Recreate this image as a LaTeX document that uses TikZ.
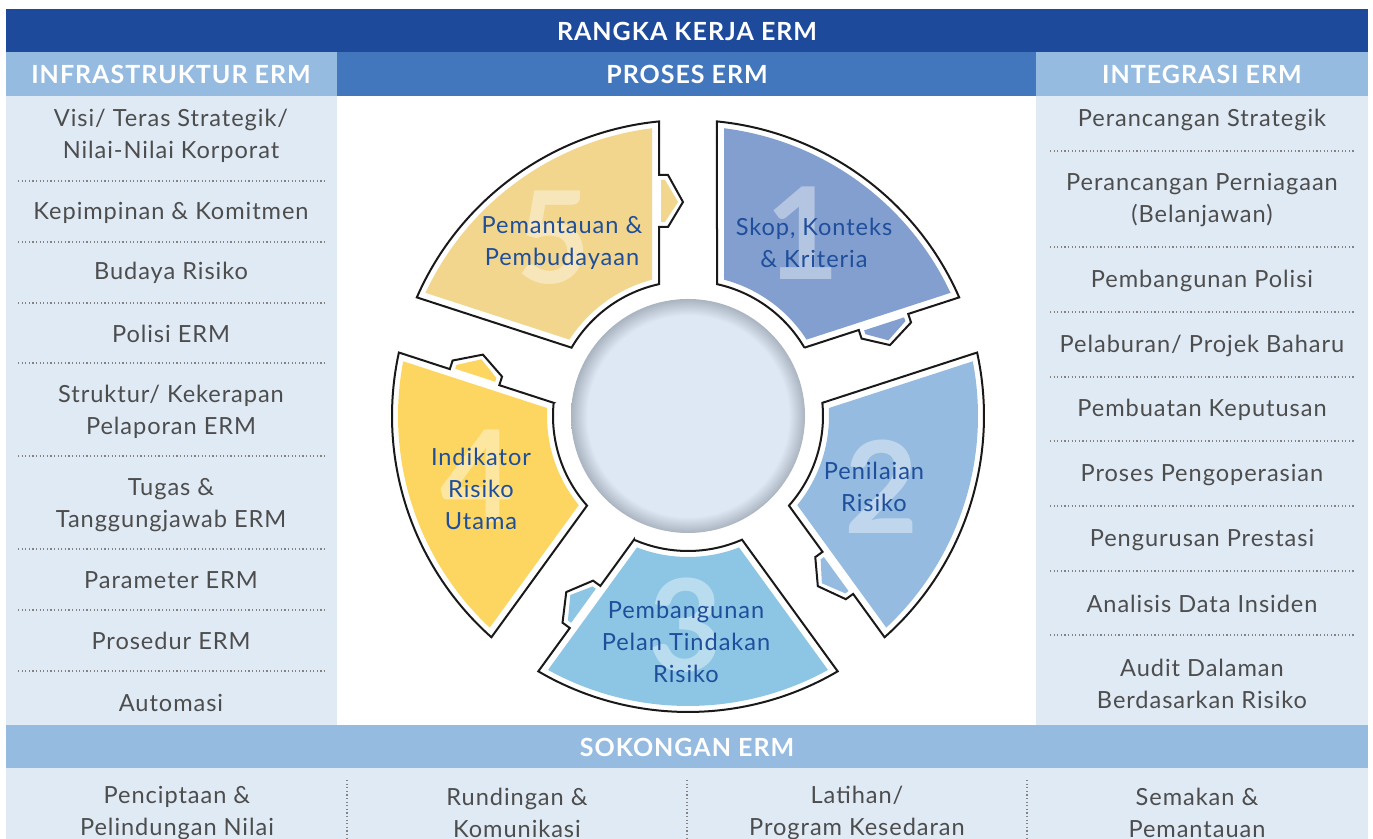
\documentclass[tikz,border=0pt]{standalone}
\usepackage{fontspec}
\setmainfont{Lato}[LetterSpace=4]
\definecolor{hdrdark}{HTML}{1D4A9A}
\definecolor{hdrlight}{HTML}{96BBE0}
\definecolor{hdrmid}{HTML}{4277BD}
\definecolor{colbg}{HTML}{DFEAF5}
\definecolor{bodytxt}{HTML}{4D4D4D}
\definecolor{labeltxt}{HTML}{1F4E9B}
\definecolor{segone}{HTML}{829FCF}
\definecolor{segtwo}{HTML}{95BBE0}
\definecolor{segthree}{HTML}{8DC6E5}
\definecolor{segfour}{HTML}{FCD661}
\definecolor{segfive}{HTML}{F2D68D}
\definecolor{hubfill}{HTML}{DDE8F4}
\definecolor{hubrim}{HTML}{A9B4C0}
\pgfdeclareradialshading{hubshade}{\pgfpoint{0bp}{0bp}}{color(0bp)=(hubfill); color(21.5bp)=(hubfill); color(25bp)=(hubrim); color(50bp)=(hubrim)}
\tikzset{
  itemtxt/.style={text=bodytxt, align=center, font=\fontsize{11.8}{16}\selectfont},
  hdrtxt/.style={text=white, font=\fontsize{12.5}{14}\selectfont\bfseries},
  proclabel/.style={text=labeltxt, align=center, font=\fontsize{11.8}{16}\selectfont},
  bignum/.style={text=white, opacity=0.4, inner sep=0pt, font=\fontsize{64}{64}\selectfont\bfseries},
  dotsep/.style={bodytxt!70, line width=0.6pt, dash pattern=on 0.6pt off 1.2pt},
  segline/.style={draw=black!90, line width=1pt, fill=white}
}
% one arrow segment of the wheel: #1 = middle angle, #2 = colour
\newcommand{\procseg}[2]{%
  \begin{scope}[shift={(688,423)}, rotate={#1-36}]
    \draw[segline] ({asin(29/135)}:135) -- (189,29) -- (189,20) -- (214,5) -- (241,20) -- (241,29)
      -- ({asin(29/296)}:296) arc[start angle={asin(29/296)}, end angle={72-asin(29/296)}, radius=296]
      -- ({72-asin(29/135)}:135) arc[start angle={72-asin(29/135)}, end angle={asin(29/135)}, radius=135] -- cycle;
    \fill[#2] ({asin(36/141)}:141) -- ({asin(36/290)}:290)
      arc[start angle={asin(36/290)}, end angle={72-asin(36/290)}, radius=290]
      -- ({72-asin(36/141)}:141) arc[start angle={72-asin(36/141)}, end angle={asin(36/141)}, radius=141] -- cycle;
    \fill[#2] (194,27) -- (194,23) -- (214,10) -- (236,23) -- (236,27) -- cycle;
  \end{scope}}

\begin{document}
\begin{tikzpicture}[x=0.5pt, y=0.5pt]
  \useasboundingbox (0,0) rectangle (1373,839);

  %%%%% BANDS %%%%%
  \fill[hdrdark] (6,787) rectangle (1368,830);
  \fill[hdrlight] (6,743) rectangle (337,787);
  \fill[hdrmid] (337,743) rectangle (1036,787);
  \fill[hdrlight] (1036,743) rectangle (1368,787);
  \fill[colbg] (6,114) rectangle (337,743);
  \fill[colbg] (1036,114) rectangle (1368,743);
  \fill[hdrlight] (6,71) rectangle (1368,114);
  \fill[colbg] (6,0) rectangle (1368,71);

  \node[hdrtxt] (rangka) at (687,808) {RANGKA KERJA ERM};
  \node[hdrtxt] (infra) at (171,765) {INFRASTRUKTUR ERM};
  \node[hdrtxt] (proses) at (687,765) {PROSES ERM};
  \node[hdrtxt] (integ) at (1202,765) {INTEGRASI ERM};
  \node[hdrtxt] (sokong) at (687,92) {SOKONGAN ERM};

  %%%%% INFRASTRUKTUR %%%%%
  \node[itemtxt] (visi) at (171,703) {Visi/ Teras Strategik/\\Nilai-Nilai Korporat};
  \node[itemtxt] (kepimpinan) at (171,626) {Kepimpinan \& Komitmen};
  \node[itemtxt] (budaya) at (171,566) {Budaya Risiko};
  \node[itemtxt] (polisi) at (171,505) {Polisi ERM};
  \node[itemtxt] (struktur) at (171,427) {Struktur/ Kekerapan\\Pelaporan ERM};
  \node[itemtxt] (tugas) at (171,334) {Tugas \&\\Tanggungjawab ERM};
  \node[itemtxt] (parameter) at (171,259) {Parameter ERM};
  \node[itemtxt] (prosedur) at (171,198) {Prosedur ERM};
  \node[itemtxt] (automasi) at (171,136) {Automasi};
  \foreach \y in {658,597,536,476,383,290,229,168}
    \draw[dotsep] (18,\y) -- (325,\y);

  %%%%% INTEGRASI %%%%%
  \node[itemtxt] (strategik) at (1202,719) {Perancangan Strategik};
  \node[itemtxt] (niaga) at (1202,639) {Perancangan Perniagaan\\(Belanjawan)};
  \node[itemtxt] (pbpolisi) at (1202,558) {Pembangunan Polisi};
  \node[itemtxt] (pelaburan) at (1202,493) {Pelaburan/ Projek Baharu};
  \node[itemtxt] (keputusan) at (1202,429) {Pembuatan Keputusan};
  \node[itemtxt] (operasi) at (1202,364) {Proses Pengoperasian};
  \node[itemtxt] (prestasi) at (1202,299) {Pengurusan Prestasi};
  \node[itemtxt] (insiden) at (1202,235) {Analisis Data Insiden};
  \node[itemtxt] (audit) at (1202,155) {Audit Dalaman\\Berdasarkan Risiko};
  \foreach \y in {688,592,527,462,398,333,268,204}
    \draw[dotsep] (1050,\y) -- (1355,\y);

  %%%%% SOKONGAN %%%%%
  \node[itemtxt] (cipta) at (177,26) {Penciptaan \&\\Pelindungan Nilai};
  \node[itemtxt] (runding) at (517,26) {Rundingan \&\\Komunikasi};
  \node[itemtxt] (latihan) at (857,26) {Latihan/\\Program Kesedaran};
  \node[itemtxt] (semakan) at (1197,26) {Semakan \&\\Pemantauan};
  \foreach \x in {347,687,1027}
    \draw[dotsep] (\x,59) -- (\x,0);

  %%%%% PROSES WHEEL %%%%%
  \shade[shading=hubshade] (688,423) circle[radius=117];
  \procseg{54}{segone}
  \procseg{-18}{segtwo}
  \procseg{-90}{segthree}
  \procseg{-162}{segfour}
  \procseg{126}{segfive}

  \node[bignum] (numone) at (803,606) {1};
  \node[bignum] (numtwo) at (882,352) {2};
  \node[bignum] (numthree) at (686,214) {3};
  \node[bignum] (numfour) at (478,363) {4};
  \node[bignum] (numfive) at (554,601) {5};

  \node[proclabel] (skop) at (814,596) {Skop, Konteks\\\& Kriteria};
  \node[proclabel] (penilaian) at (874,352) {Penilaian\\Risiko};
  \node[proclabel] (pelan) at (686,197) {Pembangunan\\Pelan Tindakan\\Risiko};
  \node[proclabel] (indikator) at (481,350) {Indikator\\Risiko\\Utama};
  \node[proclabel] (pantau) at (562,596) {Pemantauan \&\\Pembudayaan};
\end{tikzpicture}
\end{document}
